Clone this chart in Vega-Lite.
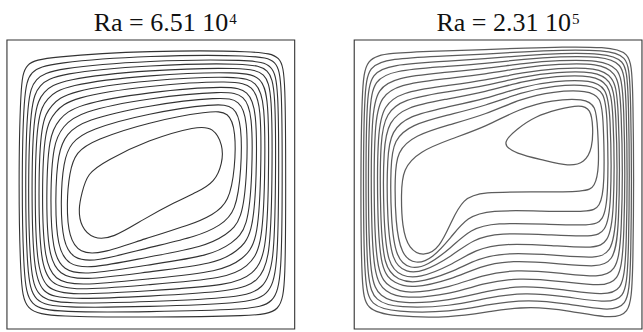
{
  "$schema": "https://vega.github.io/schema/vega-lite/v6.json",
  "width": 643,
  "height": 332,
  "autosize": {"type": "fit", "contains": "padding"},
  "padding": 0,
  "background": "white",
  "config": {"view": {"stroke": null}},
  "datasets": {
    "left": [
      {"c":1,"i":1,"u":0.248,"v":0.415},{"c":1,"i":2,"u":0.260,"v":0.469},{"c":1,"i":3,"u":0.279,"v":0.539},{"c":1,"i":4,"u":0.344,"v":0.582},{"c":1,"i":5,"u":0.490,"v":0.654},{"c":1,"i":6,"u":0.662,"v":0.703},{"c":1,"i":7,"u":0.717,"v":0.697},{"c":1,"i":8,"u":0.751,"v":0.637},{"c":1,"i":9,"u":0.749,"v":0.574},{"c":1,"i":10,"u":0.722,"v":0.508},{"c":1,"i":11,"u":0.662,"v":0.474},{"c":1,"i":12,"u":0.583,"v":0.439},{"c":1,"i":13,"u":0.476,"v":0.381},{"c":1,"i":14,"u":0.367,"v":0.313},{"c":1,"i":15,"u":0.299,"v":0.311},{"c":1,"i":16,"u":0.257,"v":0.353},
      {"c":2,"i":1,"u":0.207,"v":0.432},{"c":2,"i":2,"u":0.217,"v":0.543},{"c":2,"i":3,"u":0.239,"v":0.612},{"c":2,"i":4,"u":0.303,"v":0.654},{"c":2,"i":5,"u":0.491,"v":0.716},{"c":2,"i":6,"u":0.706,"v":0.755},{"c":2,"i":7,"u":0.772,"v":0.752},{"c":2,"i":8,"u":0.795,"v":0.684},{"c":2,"i":9,"u":0.793,"v":0.559},{"c":2,"i":10,"u":0.772,"v":0.439},{"c":2,"i":11,"u":0.716,"v":0.395},{"c":2,"i":12,"u":0.638,"v":0.360},{"c":2,"i":13,"u":0.479,"v":0.313},{"c":2,"i":14,"u":0.326,"v":0.259},{"c":2,"i":15,"u":0.253,"v":0.262},{"c":2,"i":16,"u":0.215,"v":0.316},
      {"c":3,"i":1,"u":0.186,"v":0.440},{"c":3,"i":2,"u":0.196,"v":0.581},{"c":3,"i":3,"u":0.222,"v":0.645},{"c":3,"i":4,"u":0.283,"v":0.690},{"c":3,"i":5,"u":0.491,"v":0.747},{"c":3,"i":6,"u":0.727,"v":0.781},{"c":3,"i":7,"u":0.791,"v":0.772},{"c":3,"i":8,"u":0.816,"v":0.707},{"c":3,"i":9,"u":0.815,"v":0.552},{"c":3,"i":10,"u":0.796,"v":0.404},{"c":3,"i":11,"u":0.741,"v":0.358},{"c":3,"i":12,"u":0.665,"v":0.321},{"c":3,"i":13,"u":0.481,"v":0.279},{"c":3,"i":14,"u":0.306,"v":0.232},{"c":3,"i":15,"u":0.232,"v":0.241},{"c":3,"i":16,"u":0.194,"v":0.298},
      {"c":4,"i":1,"u":0.167,"v":0.448},{"c":4,"i":2,"u":0.177,"v":0.614},{"c":4,"i":3,"u":0.207,"v":0.675},{"c":4,"i":4,"u":0.265,"v":0.722},{"c":4,"i":5,"u":0.491,"v":0.775},{"c":4,"i":6,"u":0.747,"v":0.804},{"c":4,"i":7,"u":0.809,"v":0.791},{"c":4,"i":8,"u":0.836,"v":0.728},{"c":4,"i":9,"u":0.835,"v":0.545},{"c":4,"i":10,"u":0.818,"v":0.373},{"c":4,"i":11,"u":0.762,"v":0.326},{"c":4,"i":12,"u":0.689,"v":0.285},{"c":4,"i":13,"u":0.483,"v":0.248},{"c":4,"i":14,"u":0.288,"v":0.208},{"c":4,"i":15,"u":0.214,"v":0.221},{"c":4,"i":16,"u":0.175,"v":0.281},
      {"c":5,"i":1,"u":0.150,"v":0.454},{"c":5,"i":2,"u":0.160,"v":0.644},{"c":5,"i":3,"u":0.195,"v":0.701},{"c":5,"i":4,"u":0.249,"v":0.751},{"c":5,"i":5,"u":0.492,"v":0.800},{"c":5,"i":6,"u":0.764,"v":0.825},{"c":5,"i":7,"u":0.825,"v":0.808},{"c":5,"i":8,"u":0.853,"v":0.746},{"c":5,"i":9,"u":0.853,"v":0.539},{"c":5,"i":10,"u":0.838,"v":0.346},{"c":5,"i":11,"u":0.782,"v":0.297},{"c":5,"i":12,"u":0.711,"v":0.254},{"c":5,"i":13,"u":0.484,"v":0.221},{"c":5,"i":14,"u":0.272,"v":0.186},{"c":5,"i":15,"u":0.196,"v":0.202},{"c":5,"i":16,"u":0.158,"v":0.267},
      {"c":6,"i":1,"u":0.136,"v":0.460},{"c":6,"i":2,"u":0.145,"v":0.670},{"c":6,"i":3,"u":0.181,"v":0.725},{"c":6,"i":4,"u":0.235,"v":0.776},{"c":6,"i":5,"u":0.492,"v":0.821},{"c":6,"i":6,"u":0.779,"v":0.843},{"c":6,"i":7,"u":0.838,"v":0.823},{"c":6,"i":8,"u":0.868,"v":0.762},{"c":6,"i":9,"u":0.868,"v":0.533},{"c":6,"i":10,"u":0.855,"v":0.322},{"c":6,"i":11,"u":0.799,"v":0.269},{"c":6,"i":12,"u":0.730,"v":0.226},{"c":6,"i":13,"u":0.485,"v":0.197},{"c":6,"i":14,"u":0.258,"v":0.167},{"c":6,"i":15,"u":0.182,"v":0.187},{"c":6,"i":16,"u":0.143,"v":0.254},
      {"c":7,"i":1,"u":0.121,"v":0.466},{"c":7,"i":2,"u":0.130,"v":0.696},{"c":7,"i":3,"u":0.167,"v":0.751},{"c":7,"i":4,"u":0.220,"v":0.801},{"c":7,"i":5,"u":0.492,"v":0.843},{"c":7,"i":6,"u":0.795,"v":0.861},{"c":7,"i":7,"u":0.854,"v":0.840},{"c":7,"i":8,"u":0.884,"v":0.778},{"c":7,"i":9,"u":0.883,"v":0.528},{"c":7,"i":10,"u":0.872,"v":0.297},{"c":7,"i":11,"u":0.818,"v":0.242},{"c":7,"i":12,"u":0.749,"v":0.199},{"c":7,"i":13,"u":0.486,"v":0.173},{"c":7,"i":14,"u":0.244,"v":0.148},{"c":7,"i":15,"u":0.165,"v":0.169},{"c":7,"i":16,"u":0.129,"v":0.241},
      {"c":8,"i":1,"u":0.109,"v":0.471},{"c":8,"i":2,"u":0.117,"v":0.718},{"c":8,"i":3,"u":0.154,"v":0.774},{"c":8,"i":4,"u":0.208,"v":0.823},{"c":8,"i":5,"u":0.492,"v":0.862},{"c":8,"i":6,"u":0.808,"v":0.877},{"c":8,"i":7,"u":0.868,"v":0.854},{"c":8,"i":8,"u":0.897,"v":0.792},{"c":8,"i":9,"u":0.897,"v":0.523},{"c":8,"i":10,"u":0.887,"v":0.277},{"c":8,"i":11,"u":0.836,"v":0.216},{"c":8,"i":12,"u":0.766,"v":0.175},{"c":8,"i":13,"u":0.487,"v":0.153},{"c":8,"i":14,"u":0.232,"v":0.132},{"c":8,"i":15,"u":0.151,"v":0.154},{"c":8,"i":16,"u":0.116,"v":0.230},
      {"c":9,"i":1,"u":0.096,"v":0.476},{"c":9,"i":2,"u":0.104,"v":0.740},{"c":9,"i":3,"u":0.139,"v":0.799},{"c":9,"i":4,"u":0.196,"v":0.844},{"c":9,"i":5,"u":0.492,"v":0.880},{"c":9,"i":6,"u":0.821,"v":0.892},{"c":9,"i":7,"u":0.883,"v":0.870},{"c":9,"i":8,"u":0.910,"v":0.806},{"c":9,"i":9,"u":0.910,"v":0.519},{"c":9,"i":10,"u":0.902,"v":0.256},{"c":9,"i":11,"u":0.855,"v":0.190},{"c":9,"i":12,"u":0.782,"v":0.151},{"c":9,"i":13,"u":0.489,"v":0.132},{"c":9,"i":14,"u":0.220,"v":0.116},{"c":9,"i":15,"u":0.135,"v":0.137},{"c":9,"i":16,"u":0.103,"v":0.219},
      {"c":10,"i":1,"u":0.085,"v":0.480},{"c":10,"i":2,"u":0.092,"v":0.761},{"c":10,"i":3,"u":0.126,"v":0.822},{"c":10,"i":4,"u":0.185,"v":0.864},{"c":10,"i":5,"u":0.493,"v":0.897},{"c":10,"i":6,"u":0.833,"v":0.906},{"c":10,"i":7,"u":0.898,"v":0.886},{"c":10,"i":8,"u":0.922,"v":0.819},{"c":10,"i":9,"u":0.922,"v":0.515},{"c":10,"i":10,"u":0.915,"v":0.237},{"c":10,"i":11,"u":0.873,"v":0.165},{"c":10,"i":12,"u":0.797,"v":0.130},{"c":10,"i":13,"u":0.489,"v":0.113},{"c":10,"i":14,"u":0.209,"v":0.101},{"c":10,"i":15,"u":0.120,"v":0.121},{"c":10,"i":16,"u":0.092,"v":0.209},
      {"c":11,"i":1,"u":0.073,"v":0.485},{"c":11,"i":2,"u":0.081,"v":0.781},{"c":11,"i":3,"u":0.111,"v":0.846},{"c":11,"i":4,"u":0.174,"v":0.884},{"c":11,"i":5,"u":0.493,"v":0.914},{"c":11,"i":6,"u":0.845,"v":0.921},{"c":11,"i":7,"u":0.911,"v":0.900},{"c":11,"i":8,"u":0.934,"v":0.832},{"c":11,"i":9,"u":0.934,"v":0.511},{"c":11,"i":10,"u":0.929,"v":0.218},{"c":11,"i":11,"u":0.891,"v":0.139},{"c":11,"i":12,"u":0.812,"v":0.108},{"c":11,"i":13,"u":0.490,"v":0.094},{"c":11,"i":14,"u":0.198,"v":0.086},{"c":11,"i":15,"u":0.105,"v":0.106},{"c":11,"i":16,"u":0.080,"v":0.199},
      {"c":12,"i":1,"u":0.063,"v":0.489},{"c":12,"i":2,"u":0.070,"v":0.800},{"c":12,"i":3,"u":0.096,"v":0.868},{"c":12,"i":4,"u":0.164,"v":0.902},{"c":12,"i":5,"u":0.493,"v":0.930},{"c":12,"i":6,"u":0.855,"v":0.933},{"c":12,"i":7,"u":0.924,"v":0.914},{"c":12,"i":8,"u":0.944,"v":0.843},{"c":12,"i":9,"u":0.945,"v":0.507},{"c":12,"i":10,"u":0.941,"v":0.201},{"c":12,"i":11,"u":0.910,"v":0.115},{"c":12,"i":12,"u":0.825,"v":0.088},{"c":12,"i":13,"u":0.491,"v":0.077},{"c":12,"i":14,"u":0.188,"v":0.073},{"c":12,"i":15,"u":0.091,"v":0.091},{"c":12,"i":16,"u":0.070,"v":0.190},
      {"c":13,"i":1,"u":0.051,"v":0.494},{"c":13,"i":2,"u":0.058,"v":0.820},{"c":13,"i":3,"u":0.079,"v":0.894},{"c":13,"i":4,"u":0.153,"v":0.921},{"c":13,"i":5,"u":0.493,"v":0.947},{"c":13,"i":6,"u":0.867,"v":0.948},{"c":13,"i":7,"u":0.939,"v":0.930},{"c":13,"i":8,"u":0.956,"v":0.856},{"c":13,"i":9,"u":0.957,"v":0.503},{"c":13,"i":10,"u":0.955,"v":0.182},{"c":13,"i":11,"u":0.930,"v":0.087},{"c":13,"i":12,"u":0.840,"v":0.067},{"c":13,"i":13,"u":0.492,"v":0.059},{"c":13,"i":14,"u":0.177,"v":0.058},{"c":13,"i":15,"u":0.076,"v":0.075},{"c":13,"i":16,"u":0.058,"v":0.180},
      {"c":14,"i":1,"u":0.040,"v":0.498},{"c":14,"i":2,"u":0.047,"v":0.841},{"c":14,"i":3,"u":0.061,"v":0.922},{"c":14,"i":4,"u":0.141,"v":0.941},{"c":14,"i":5,"u":0.493,"v":0.964},{"c":14,"i":6,"u":0.879,"v":0.962},{"c":14,"i":7,"u":0.953,"v":0.945},{"c":14,"i":8,"u":0.968,"v":0.869},{"c":14,"i":9,"u":0.969,"v":0.498},{"c":14,"i":10,"u":0.968,"v":0.163},{"c":14,"i":11,"u":0.953,"v":0.057},{"c":14,"i":12,"u":0.855,"v":0.045},{"c":14,"i":13,"u":0.493,"v":0.040},{"c":14,"i":14,"u":0.166,"v":0.043},{"c":14,"i":15,"u":0.061,"v":0.059},{"c":14,"i":16,"u":0.047,"v":0.170}
    ],
    "right": [
      {"c":1,"i":1,"u":0.509,"v":0.641},{"c":1,"i":2,"u":0.566,"v":0.693},{"c":1,"i":3,"u":0.629,"v":0.736},{"c":1,"i":4,"u":0.708,"v":0.760},{"c":1,"i":5,"u":0.785,"v":0.777},{"c":1,"i":6,"u":0.822,"v":0.761},{"c":1,"i":7,"u":0.830,"v":0.701},{"c":1,"i":8,"u":0.828,"v":0.626},{"c":1,"i":9,"u":0.801,"v":0.575},{"c":1,"i":10,"u":0.746,"v":0.562},{"c":1,"i":11,"u":0.660,"v":0.584},{"c":1,"i":12,"u":0.561,"v":0.607},
      {"c":2,"i":1,"u":0.163,"v":0.466},{"c":2,"i":2,"u":0.168,"v":0.554},{"c":2,"i":3,"u":0.227,"v":0.615},{"c":2,"i":4,"u":0.335,"v":0.657},{"c":2,"i":5,"u":0.460,"v":0.701},{"c":2,"i":6,"u":0.572,"v":0.762},{"c":2,"i":7,"u":0.688,"v":0.793},{"c":2,"i":8,"u":0.799,"v":0.798},{"c":2,"i":9,"u":0.840,"v":0.773},{"c":2,"i":10,"u":0.846,"v":0.696},{"c":2,"i":11,"u":0.852,"v":0.559},{"c":2,"i":12,"u":0.836,"v":0.490},{"c":2,"i":13,"u":0.805,"v":0.475},{"c":2,"i":14,"u":0.634,"v":0.474},{"c":2,"i":15,"u":0.442,"v":0.475},{"c":2,"i":16,"u":0.378,"v":0.451},{"c":2,"i":17,"u":0.337,"v":0.371},{"c":2,"i":18,"u":0.298,"v":0.283},{"c":2,"i":19,"u":0.245,"v":0.250},{"c":2,"i":20,"u":0.189,"v":0.275},{"c":2,"i":21,"u":0.166,"v":0.355},
      {"c":3,"i":1,"u":0.141,"v":0.525},{"c":3,"i":2,"u":0.148,"v":0.615},{"c":3,"i":3,"u":0.210,"v":0.670},{"c":3,"i":4,"u":0.327,"v":0.706},{"c":3,"i":5,"u":0.460,"v":0.743},{"c":3,"i":6,"u":0.576,"v":0.796},{"c":3,"i":7,"u":0.693,"v":0.823},{"c":3,"i":8,"u":0.811,"v":0.826},{"c":3,"i":9,"u":0.858,"v":0.802},{"c":3,"i":10,"u":0.866,"v":0.725},{"c":3,"i":11,"u":0.871,"v":0.495},{"c":3,"i":12,"u":0.854,"v":0.420},{"c":3,"i":13,"u":0.817,"v":0.405},{"c":3,"i":14,"u":0.653,"v":0.408},{"c":3,"i":15,"u":0.470,"v":0.412},{"c":3,"i":16,"u":0.393,"v":0.388},{"c":3,"i":17,"u":0.337,"v":0.318},{"c":3,"i":18,"u":0.272,"v":0.244},{"c":3,"i":19,"u":0.214,"v":0.223},{"c":3,"i":20,"u":0.163,"v":0.255},{"c":3,"i":21,"u":0.143,"v":0.370},
      {"c":4,"i":1,"u":0.126,"v":0.566},{"c":4,"i":2,"u":0.137,"v":0.655},{"c":4,"i":3,"u":0.198,"v":0.707},{"c":4,"i":4,"u":0.322,"v":0.740},{"c":4,"i":5,"u":0.459,"v":0.773},{"c":4,"i":6,"u":0.579,"v":0.819},{"c":4,"i":7,"u":0.696,"v":0.843},{"c":4,"i":8,"u":0.819,"v":0.846},{"c":4,"i":9,"u":0.869,"v":0.820},{"c":4,"i":10,"u":0.880,"v":0.745},{"c":4,"i":11,"u":0.884,"v":0.452},{"c":4,"i":12,"u":0.865,"v":0.373},{"c":4,"i":13,"u":0.825,"v":0.357},{"c":4,"i":14,"u":0.666,"v":0.363},{"c":4,"i":15,"u":0.489,"v":0.368},{"c":4,"i":16,"u":0.404,"v":0.346},{"c":4,"i":17,"u":0.337,"v":0.281},{"c":4,"i":18,"u":0.253,"v":0.218},{"c":4,"i":19,"u":0.196,"v":0.207},{"c":4,"i":20,"u":0.145,"v":0.241},{"c":4,"i":21,"u":0.127,"v":0.380},
      {"c":5,"i":1,"u":0.114,"v":0.599},{"c":5,"i":2,"u":0.129,"v":0.685},{"c":5,"i":3,"u":0.189,"v":0.738},{"c":5,"i":4,"u":0.318,"v":0.767},{"c":5,"i":5,"u":0.459,"v":0.797},{"c":5,"i":6,"u":0.581,"v":0.838},{"c":5,"i":7,"u":0.698,"v":0.859},{"c":5,"i":8,"u":0.826,"v":0.862},{"c":5,"i":9,"u":0.875,"v":0.833},{"c":5,"i":10,"u":0.891,"v":0.761},{"c":5,"i":11,"u":0.895,"v":0.416},{"c":5,"i":12,"u":0.872,"v":0.337},{"c":5,"i":13,"u":0.831,"v":0.318},{"c":5,"i":14,"u":0.676,"v":0.326},{"c":5,"i":15,"u":0.504,"v":0.333},{"c":5,"i":16,"u":0.413,"v":0.311},{"c":5,"i":17,"u":0.338,"v":0.251},{"c":5,"i":18,"u":0.238,"v":0.197},{"c":5,"i":19,"u":0.182,"v":0.195},{"c":5,"i":20,"u":0.130,"v":0.230},{"c":5,"i":21,"u":0.114,"v":0.388},
      {"c":6,"i":1,"u":0.101,"v":0.632},{"c":6,"i":2,"u":0.120,"v":0.717},{"c":6,"i":3,"u":0.179,"v":0.768},{"c":6,"i":4,"u":0.313,"v":0.794},{"c":6,"i":5,"u":0.459,"v":0.821},{"c":6,"i":6,"u":0.583,"v":0.857},{"c":6,"i":7,"u":0.701,"v":0.876},{"c":6,"i":8,"u":0.832,"v":0.878},{"c":6,"i":9,"u":0.883,"v":0.847},{"c":6,"i":10,"u":0.902,"v":0.777},{"c":6,"i":11,"u":0.905,"v":0.381},{"c":6,"i":12,"u":0.880,"v":0.300},{"c":6,"i":13,"u":0.838,"v":0.278},{"c":6,"i":14,"u":0.687,"v":0.289},{"c":6,"i":15,"u":0.520,"v":0.297},{"c":6,"i":16,"u":0.422,"v":0.276},{"c":6,"i":17,"u":0.338,"v":0.221},{"c":6,"i":18,"u":0.223,"v":0.175},{"c":6,"i":19,"u":0.167,"v":0.182},{"c":6,"i":20,"u":0.115,"v":0.218},{"c":6,"i":21,"u":0.101,"v":0.396},
      {"c":7,"i":1,"u":0.090,"v":0.661},{"c":7,"i":2,"u":0.111,"v":0.747},{"c":7,"i":3,"u":0.171,"v":0.795},{"c":7,"i":4,"u":0.309,"v":0.819},{"c":7,"i":5,"u":0.459,"v":0.842},{"c":7,"i":6,"u":0.585,"v":0.873},{"c":7,"i":7,"u":0.703,"v":0.890},{"c":7,"i":8,"u":0.838,"v":0.892},{"c":7,"i":9,"u":0.891,"v":0.861},{"c":7,"i":10,"u":0.912,"v":0.791},{"c":7,"i":11,"u":0.915,"v":0.349},{"c":7,"i":12,"u":0.889,"v":0.265},{"c":7,"i":13,"u":0.844,"v":0.243},{"c":7,"i":14,"u":0.696,"v":0.256},{"c":7,"i":15,"u":0.533,"v":0.265},{"c":7,"i":16,"u":0.430,"v":0.245},{"c":7,"i":17,"u":0.338,"v":0.195},{"c":7,"i":18,"u":0.210,"v":0.156},{"c":7,"i":19,"u":0.154,"v":0.170},{"c":7,"i":20,"u":0.102,"v":0.208},{"c":7,"i":21,"u":0.090,"v":0.404},
      {"c":8,"i":1,"u":0.081,"v":0.687},{"c":8,"i":2,"u":0.103,"v":0.773},{"c":8,"i":3,"u":0.163,"v":0.819},{"c":8,"i":4,"u":0.306,"v":0.840},{"c":8,"i":5,"u":0.459,"v":0.861},{"c":8,"i":6,"u":0.587,"v":0.888},{"c":8,"i":7,"u":0.706,"v":0.903},{"c":8,"i":8,"u":0.843,"v":0.905},{"c":8,"i":9,"u":0.899,"v":0.874},{"c":8,"i":10,"u":0.921,"v":0.804},{"c":8,"i":11,"u":0.923,"v":0.321},{"c":8,"i":12,"u":0.897,"v":0.235},{"c":8,"i":13,"u":0.849,"v":0.213},{"c":8,"i":14,"u":0.705,"v":0.227},{"c":8,"i":15,"u":0.545,"v":0.238},{"c":8,"i":16,"u":0.437,"v":0.218},{"c":8,"i":17,"u":0.338,"v":0.171},{"c":8,"i":18,"u":0.198,"v":0.139},{"c":8,"i":19,"u":0.141,"v":0.158},{"c":8,"i":20,"u":0.091,"v":0.199},{"c":8,"i":21,"u":0.080,"v":0.410},
      {"c":9,"i":1,"u":0.070,"v":0.716},{"c":9,"i":2,"u":0.092,"v":0.804},{"c":9,"i":3,"u":0.155,"v":0.846},{"c":9,"i":4,"u":0.302,"v":0.865},{"c":9,"i":5,"u":0.459,"v":0.882},{"c":9,"i":6,"u":0.589,"v":0.905},{"c":9,"i":7,"u":0.708,"v":0.917},{"c":9,"i":8,"u":0.849,"v":0.919},{"c":9,"i":9,"u":0.908,"v":0.889},{"c":9,"i":10,"u":0.931,"v":0.818},{"c":9,"i":11,"u":0.933,"v":0.289},{"c":9,"i":12,"u":0.906,"v":0.199},{"c":9,"i":13,"u":0.855,"v":0.178},{"c":9,"i":14,"u":0.714,"v":0.194},{"c":9,"i":15,"u":0.559,"v":0.206},{"c":9,"i":16,"u":0.444,"v":0.187},{"c":9,"i":17,"u":0.338,"v":0.145},{"c":9,"i":18,"u":0.185,"v":0.120},{"c":9,"i":19,"u":0.124,"v":0.143},{"c":9,"i":20,"u":0.078,"v":0.189},{"c":9,"i":21,"u":0.068,"v":0.417},
      {"c":10,"i":1,"u":0.060,"v":0.742},{"c":10,"i":2,"u":0.081,"v":0.832},{"c":10,"i":3,"u":0.147,"v":0.870},{"c":10,"i":4,"u":0.298,"v":0.886},{"c":10,"i":5,"u":0.459,"v":0.901},{"c":10,"i":6,"u":0.591,"v":0.920},{"c":10,"i":7,"u":0.710,"v":0.930},{"c":10,"i":8,"u":0.854,"v":0.931},{"c":10,"i":9,"u":0.918,"v":0.904},{"c":10,"i":10,"u":0.940,"v":0.831},{"c":10,"i":11,"u":0.941,"v":0.262},{"c":10,"i":12,"u":0.917,"v":0.166},{"c":10,"i":13,"u":0.861,"v":0.147},{"c":10,"i":14,"u":0.722,"v":0.165},{"c":10,"i":15,"u":0.571,"v":0.178},{"c":10,"i":16,"u":0.451,"v":0.159},{"c":10,"i":17,"u":0.338,"v":0.121},{"c":10,"i":18,"u":0.173,"v":0.103},{"c":10,"i":19,"u":0.107,"v":0.128},{"c":10,"i":20,"u":0.067,"v":0.180},{"c":10,"i":21,"u":0.058,"v":0.424},
      {"c":11,"i":1,"u":0.051,"v":0.768},{"c":11,"i":2,"u":0.069,"v":0.863},{"c":11,"i":3,"u":0.140,"v":0.894},{"c":11,"i":4,"u":0.295,"v":0.907},{"c":11,"i":5,"u":0.459,"v":0.919},{"c":11,"i":6,"u":0.592,"v":0.934},{"c":11,"i":7,"u":0.712,"v":0.943},{"c":11,"i":8,"u":0.859,"v":0.944},{"c":11,"i":9,"u":0.930,"v":0.921},{"c":11,"i":10,"u":0.948,"v":0.843},{"c":11,"i":11,"u":0.949,"v":0.234},{"c":11,"i":12,"u":0.929,"v":0.131},{"c":11,"i":13,"u":0.866,"v":0.117},{"c":11,"i":14,"u":0.731,"v":0.136},{"c":11,"i":15,"u":0.583,"v":0.151},{"c":11,"i":16,"u":0.458,"v":0.132},{"c":11,"i":17,"u":0.338,"v":0.098},{"c":11,"i":18,"u":0.161,"v":0.086},{"c":11,"i":19,"u":0.088,"v":0.111},{"c":11,"i":20,"u":0.055,"v":0.172},{"c":11,"i":21,"u":0.048,"v":0.430},
      {"c":12,"i":1,"u":0.042,"v":0.790},{"c":12,"i":2,"u":0.059,"v":0.888},{"c":12,"i":3,"u":0.133,"v":0.914},{"c":12,"i":4,"u":0.292,"v":0.925},{"c":12,"i":5,"u":0.459,"v":0.935},{"c":12,"i":6,"u":0.594,"v":0.947},{"c":12,"i":7,"u":0.714,"v":0.954},{"c":12,"i":8,"u":0.864,"v":0.954},{"c":12,"i":9,"u":0.939,"v":0.934},{"c":12,"i":10,"u":0.956,"v":0.854},{"c":12,"i":11,"u":0.956,"v":0.210},{"c":12,"i":12,"u":0.939,"v":0.102},{"c":12,"i":13,"u":0.870,"v":0.091},{"c":12,"i":14,"u":0.738,"v":0.112},{"c":12,"i":15,"u":0.593,"v":0.127},{"c":12,"i":16,"u":0.464,"v":0.109},{"c":12,"i":17,"u":0.338,"v":0.078},{"c":12,"i":18,"u":0.151,"v":0.072},{"c":12,"i":19,"u":0.072,"v":0.096},{"c":12,"i":20,"u":0.045,"v":0.164},{"c":12,"i":21,"u":0.040,"v":0.436},
      {"c":13,"i":1,"u":0.034,"v":0.812},{"c":13,"i":2,"u":0.049,"v":0.913},{"c":13,"i":3,"u":0.127,"v":0.935},{"c":13,"i":4,"u":0.289,"v":0.944},{"c":13,"i":5,"u":0.459,"v":0.951},{"c":13,"i":6,"u":0.595,"v":0.960},{"c":13,"i":7,"u":0.715,"v":0.965},{"c":13,"i":8,"u":0.868,"v":0.965},{"c":13,"i":9,"u":0.948,"v":0.947},{"c":13,"i":10,"u":0.963,"v":0.865},{"c":13,"i":11,"u":0.964,"v":0.186},{"c":13,"i":12,"u":0.948,"v":0.074},{"c":13,"i":13,"u":0.875,"v":0.064},{"c":13,"i":14,"u":0.745,"v":0.087},{"c":13,"i":15,"u":0.604,"v":0.103},{"c":13,"i":16,"u":0.470,"v":0.086},{"c":13,"i":17,"u":0.338,"v":0.058},{"c":13,"i":18,"u":0.141,"v":0.058},{"c":13,"i":19,"u":0.056,"v":0.081},{"c":13,"i":20,"u":0.036,"v":0.156},{"c":13,"i":21,"u":0.031,"v":0.441},
      {"c":14,"i":1,"u":0.026,"v":0.834},{"c":14,"i":2,"u":0.040,"v":0.938},{"c":14,"i":3,"u":0.121,"v":0.955},{"c":14,"i":4,"u":0.286,"v":0.962},{"c":14,"i":5,"u":0.459,"v":0.967},{"c":14,"i":6,"u":0.597,"v":0.972},{"c":14,"i":7,"u":0.717,"v":0.976},{"c":14,"i":8,"u":0.872,"v":0.976},{"c":14,"i":9,"u":0.957,"v":0.960},{"c":14,"i":10,"u":0.971,"v":0.875},{"c":14,"i":11,"u":0.971,"v":0.163},{"c":14,"i":12,"u":0.957,"v":0.045},{"c":14,"i":13,"u":0.879,"v":0.038},{"c":14,"i":14,"u":0.752,"v":0.062},{"c":14,"i":15,"u":0.614,"v":0.080},{"c":14,"i":16,"u":0.476,"v":0.062},{"c":14,"i":17,"u":0.338,"v":0.038},{"c":14,"i":18,"u":0.131,"v":0.043},{"c":14,"i":19,"u":0.040,"v":0.066},{"c":14,"i":20,"u":0.026,"v":0.149},{"c":14,"i":21,"u":0.022,"v":0.446}
    ]
  },
  "resolve": {"scale": {"x": "independent"}},
  "layer": [
    {
      "layer": [
        {
          "data": {"values": [{}]},
          "mark": {"type": "rect", "fillOpacity": 0, "stroke": "#333333", "strokeWidth": 1.1},
          "encoding": {
            "x": {"datum": 0, "type": "quantitative", "scale": {"domain": [-0.024138, 2.193103], "zero": false, "nice": false}, "axis": null},
            "x2": {"datum": 1},
            "y": {"datum": 0, "type": "quantitative", "scale": {"domain": [-0.01038, 1.13841], "zero": false, "nice": false}, "axis": null},
            "y2": {"datum": 1}
          }
        },
        {
          "data": {"name": "left"},
          "mark": {"type": "line", "interpolate": "basis-closed", "stroke": "#333333", "strokeWidth": 1.1},
          "encoding": {
            "x": {"field": "u", "type": "quantitative", "scale": {"domain": [-0.024138, 2.193103], "zero": false, "nice": false}, "axis": null},
            "y": {"field": "v", "type": "quantitative", "scale": {"domain": [-0.01038, 1.13841], "zero": false, "nice": false}, "axis": null},
            "detail": {"field": "c", "type": "nominal"},
            "order": {"field": "i", "type": "quantitative"}
          }
        },
        {
          "data": {"values": [{}]},
          "mark": {"type": "text", "align": "right", "baseline": "alphabetic", "font": "Liberation Serif", "fontSize": 26, "color": "#111111"},
          "encoding": {
            "x": {"datum": 0.769, "type": "quantitative", "scale": {"domain": [-0.024138, 2.193103], "zero": false, "nice": false}, "axis": null},
            "y": {"datum": 1.0311, "type": "quantitative", "scale": {"domain": [-0.01038, 1.13841], "zero": false, "nice": false}, "axis": null},
            "text": {"value": "Ra = 6.51 10"}
          }
        },
        {
          "data": {"values": [{}]},
          "mark": {"type": "text", "align": "left", "baseline": "alphabetic", "font": "Liberation Serif", "fontSize": 15, "color": "#111111"},
          "encoding": {
            "x": {"datum": 0.7724, "type": "quantitative", "scale": {"domain": [-0.024138, 2.193103], "zero": false, "nice": false}, "axis": null},
            "y": {"datum": 1.0554, "type": "quantitative", "scale": {"domain": [-0.01038, 1.13841], "zero": false, "nice": false}, "axis": null},
            "text": {"value": "4"}
          }
        }
      ]
    },
    {
      "layer": [
        {
          "data": {"values": [{}]},
          "mark": {"type": "rect", "fillOpacity": 0, "stroke": "#333333", "strokeWidth": 1.1},
          "encoding": {
            "x": {"datum": 0, "type": "quantitative", "scale": {"domain": [-1.231034, 0.986207], "zero": false, "nice": false}, "axis": null},
            "x2": {"datum": 1},
            "y": {"datum": 0, "type": "quantitative", "scale": {"domain": [-0.01038, 1.13841], "zero": false, "nice": false}, "axis": null},
            "y2": {"datum": 1}
          }
        },
        {
          "data": {"name": "right"},
          "mark": {"type": "line", "interpolate": "basis-closed", "stroke": "#5c5c5c", "strokeWidth": 1.25},
          "encoding": {
            "x": {"field": "u", "type": "quantitative", "scale": {"domain": [-1.231034, 0.986207], "zero": false, "nice": false}, "axis": null},
            "y": {"field": "v", "type": "quantitative", "scale": {"domain": [-0.01038, 1.13841], "zero": false, "nice": false}, "axis": null},
            "detail": {"field": "c", "type": "nominal"},
            "order": {"field": "i", "type": "quantitative"}
          }
        },
        {
          "data": {"values": [{}]},
          "mark": {"type": "text", "align": "right", "baseline": "alphabetic", "font": "Liberation Serif", "fontSize": 26, "color": "#111111"},
          "encoding": {
            "x": {"datum": 0.7534, "type": "quantitative", "scale": {"domain": [-1.231034, 0.986207], "zero": false, "nice": false}, "axis": null},
            "y": {"datum": 1.0311, "type": "quantitative", "scale": {"domain": [-0.01038, 1.13841], "zero": false, "nice": false}, "axis": null},
            "text": {"value": "Ra = 2.31 10"}
          }
        },
        {
          "data": {"values": [{}]},
          "mark": {"type": "text", "align": "left", "baseline": "alphabetic", "font": "Liberation Serif", "fontSize": 15, "color": "#111111"},
          "encoding": {
            "x": {"datum": 0.7569, "type": "quantitative", "scale": {"domain": [-1.231034, 0.986207], "zero": false, "nice": false}, "axis": null},
            "y": {"datum": 1.0554, "type": "quantitative", "scale": {"domain": [-0.01038, 1.13841], "zero": false, "nice": false}, "axis": null},
            "text": {"value": "5"}
          }
        }
      ]
    }
  ]
}
